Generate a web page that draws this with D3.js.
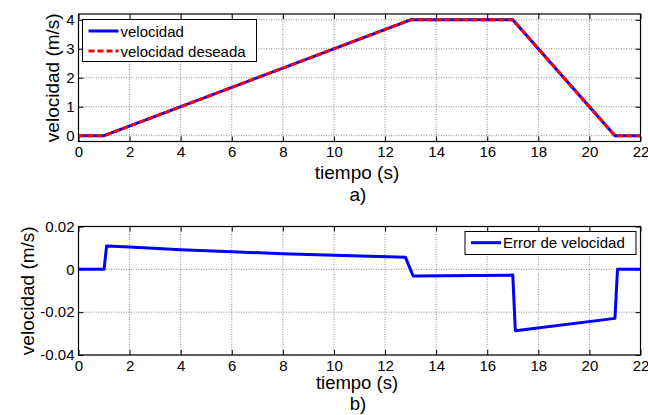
<!DOCTYPE html>
<html>
<head>
<meta charset="utf-8">
<script src="https://cdn.jsdelivr.net/npm/d3@7"></script>
<style>
  html, body { margin: 0; padding: 0; background: #fff; }
  svg { display: block; font-family: "Liberation Sans", Arial, sans-serif; }
  .grid line { stroke: #6e6e6e; stroke-width: 0.8; stroke-dasharray: 1,1.5; }
  .tick text { font-size: 15px; fill: #000; }
</style>
</head>
<body>
<svg id="chart" width="648" height="415"></svg>
<script>
// Velocity profile (m/s) over time (s)
const timeVel = [0, 1, 13, 17, 21, 22];
const velocity = [0, 0, 4, 4, 0, 0];
const velocityDesired = [0, 0, 4, 4, 0, 0];

// Velocity tracking error (m/s)
const timeErr = [0, 1, 1.1, 2, 4, 6, 8, 10, 12.8, 13.1, 17, 17.1, 21, 21.1, 22];
const velocityError = [0, 0, 0.0109, 0.0104, 0.0091, 0.0082, 0.0073, 0.0066, 0.0056, -0.0031, -0.0027, -0.0287, -0.0229, 0, 0];

const xTicks = [0, 2, 4, 6, 8, 10, 12, 14, 16, 18, 20, 22];
const yTicksTop = [0, 1, 2, 3, 4];
const yTicksBottom = [-0.04, -0.02, 0, 0.02];
const yTickLabelsBottom = ["-0.04", "-0.02", "0", "0.02"];

const svg = d3.select("#chart");
const left = 78.5, right = 640.5;

function panel(cfg) {
  const x = d3.scaleLinear().domain([0, 22]).range([left, right]);
  const y = d3.scaleLinear().domain(cfg.yDomain).range([cfg.bottom, cfg.top]);
  const g = svg.append("g");

  // dotted grid
  const grid = g.append("g").attr("class", "grid");
  grid.selectAll(".gx").data(xTicks.slice(1, -1)).enter().append("line")
    .attr("x1", d => x(d)).attr("x2", d => x(d))
    .attr("y1", cfg.top).attr("y2", cfg.bottom);
  grid.selectAll(".gy").data(cfg.yTicks).enter().append("line")
    .attr("x1", left).attr("x2", right)
    .attr("y1", d => y(d)).attr("y2", d => y(d));

  // axes with inward ticks on all four sides
  g.append("g").attr("transform", `translate(0,${cfg.bottom})`)
    .call(d3.axisBottom(x).tickValues(xTicks).tickSizeInner(-5).tickSizeOuter(0).tickPadding(5))
    .call(a => a.select(".domain").remove());
  g.append("g").attr("transform", `translate(0,${cfg.top})`)
    .call(d3.axisTop(x).tickValues(xTicks).tickSizeInner(-5).tickSizeOuter(0).tickFormat(""))
    .call(a => a.select(".domain").remove());
  g.append("g").attr("transform", `translate(${left},0)`)
    .call(d3.axisLeft(y).tickValues(cfg.yTicks).tickSizeInner(-5).tickSizeOuter(0).tickPadding(4).tickFormat(cfg.yFormat))
    .call(a => a.select(".domain").remove());
  g.append("g").attr("transform", `translate(${right},0)`)
    .call(d3.axisRight(y).tickValues(cfg.yTicks).tickSizeInner(-5).tickSizeOuter(0).tickFormat(""))
    .call(a => a.select(".domain").remove());
  g.selectAll(".tick line").attr("stroke", "#000");

  g.append("rect").attr("x", left).attr("y", cfg.top)
    .attr("width", right - left).attr("height", cfg.bottom - cfg.top)
    .attr("fill", "none").attr("stroke", "#000").attr("stroke-width", 1.2);

  const clipId = "clip" + Math.round(cfg.top);
  svg.append("clipPath").attr("id", clipId).append("rect")
    .attr("x", left).attr("y", cfg.top).attr("width", right - left).attr("height", cfg.bottom - cfg.top);

  const lines = g.append("g").attr("clip-path", `url(#${clipId})`);
  cfg.series.forEach(s => {
    const line = d3.line().x((d, i) => x(s.t[i])).y(d => y(d));
    lines.append("path").datum(s.v)
      .attr("d", line)
      .attr("fill", "none")
      .attr("stroke", s.color)
      .attr("stroke-width", 3)
      .attr("stroke-dasharray", s.dash || null)
      .attr("stroke-linejoin", "round");
  });

  // axis titles and caption
  svg.append("text").attr("x", 357).attr("y", cfg.bottom + cfg.xLabelDy)
    .attr("text-anchor", "middle").attr("font-size", cfg.titleSize).text("tiempo (s)");
  svg.append("text").attr("x", 358).attr("y", cfg.bottom + cfg.captionDy)
    .attr("text-anchor", "middle").attr("font-size", cfg.titleSize).text(cfg.caption);
  svg.append("text")
    .attr("transform", `translate(${cfg.yLabelX},${(cfg.top + cfg.bottom) / 2}) rotate(-90)`)
    .attr("text-anchor", "middle").attr("font-size", 19).text("velocidad (m/s)");

  // legend
  const lg = svg.append("g");
  lg.append("rect").attr("x", cfg.legend.x).attr("y", cfg.legend.y)
    .attr("width", cfg.legend.w).attr("height", cfg.legend.h)
    .attr("fill", "#fff").attr("stroke", "#000").attr("stroke-width", 1);
  cfg.series.forEach((s, i) => {
    const ly = cfg.legend.y + cfg.legend.first + i * 20;
    lg.append("line")
      .attr("x1", cfg.legend.x + 6).attr("x2", cfg.legend.x + 36)
      .attr("y1", ly).attr("y2", ly)
      .attr("stroke", s.color).attr("stroke-width", 3)
      .attr("stroke-dasharray", s.dash || null);
    lg.append("text").attr("x", cfg.legend.x + 38).attr("y", ly + 5.5)
      .attr("font-size", 15).text(s.name);
  });
}

panel({
  top: 14, bottom: 141.5, yDomain: [-0.2, 4.2], yTicks: yTicksTop,
  yFormat: d => d, yLabelX: 59, caption: "a)", xLabelDy: 37.8, captionDy: 59.5, titleSize: 19,
  legend: { x: 82.5, y: 19.5, w: 174, h: 42, first: 11.5 },
  series: [
    { name: "velocidad", t: timeVel, v: velocity, color: "#0000ff" },
    { name: "velocidad deseada", t: timeVel, v: velocityDesired, color: "#ff0000", dash: "6,3" }
  ]
});

panel({
  top: 226.5, bottom: 355, yDomain: [-0.04, 0.02], yTicks: yTicksBottom,
  yFormat: (d, i) => yTickLabelsBottom[i], yLabelX: 34, caption: "b)", xLabelDy: 34.3, captionDy: 55.3, titleSize: 18.5,
  legend: { x: 465, y: 231.5, w: 171, h: 23, first: 11.2 },
  series: [
    { name: "Error de velocidad", t: timeErr, v: velocityError, color: "#0000ff" }
  ]
});
</script>
</body>
</html>
